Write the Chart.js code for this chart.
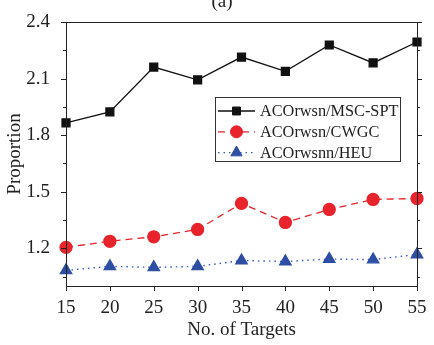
<!DOCTYPE html>
<html>
<head>
<meta charset="utf-8">
<script src="https://cdn.jsdelivr.net/npm/chart.js@4.4.0/dist/chart.umd.min.js"></script>
<style>
  html, body { margin: 0; padding: 0; background: #fff; }
  #wrap { width: 434px; height: 345px; }
</style>
</head>
<body>
<div id="wrap"><canvas id="chart" width="434" height="345"></canvas></div>
<script>
// ---- data ----
const targets = [15, 20, 25, 30, 35, 40, 45, 50, 55];
const mscSpt  = [1.865, 1.923, 2.161, 2.093, 2.214, 2.138, 2.278, 2.183, 2.294];
const cwgc    = [1.205, 1.237, 1.261, 1.300, 1.438, 1.337, 1.406, 1.459, 1.464];
const heu     = [1.083, 1.104, 1.099, 1.104, 1.135, 1.130, 1.143, 1.140, 1.167];
const seriesNames = ["ACOrwsn/MSC-SPT", "ACOrwsn/CWGC", "ACOrwsnn/HEU"];
const yMajor = [1.2, 1.5, 1.8, 2.1, 2.4];
const yMinor = [1.05, 1.35, 1.65, 1.95, 2.25];
const xTicks = [15, 20, 25, 30, 35, 40, 45, 50, 55];

const FONT = "'Liberation Serif', 'DejaVu Serif', serif";

function pts(ys){ return targets.map((x, i) => ({ x: x, y: ys[i] })); }

// frame, outward ticks, legend box and the "(a)" caption
const framePlugin = {
  id: "frame",
  afterDraw(c){
    const ctx = c.ctx, a = c.chartArea;
    const xs = c.scales.x, ys = c.scales.y;
    ctx.save();
    ctx.strokeStyle = "#222";
    ctx.lineWidth = 1;
    ctx.strokeRect(a.left + 0.5, a.top + 0.5, a.right - a.left, a.bottom - a.top);

    ctx.beginPath();
    yMajor.forEach(v => {
      const y = Math.round(ys.getPixelForValue(v)) + 0.5;
      ctx.moveTo(a.left - 5, y); ctx.lineTo(a.left, y);
      ctx.moveTo(a.right, y); ctx.lineTo(a.right + 5, y);
    });
    yMinor.forEach(v => {
      const y = Math.round(ys.getPixelForValue(v)) + 0.5;
      ctx.moveTo(a.left - 3, y); ctx.lineTo(a.left, y);
      ctx.moveTo(a.right, y); ctx.lineTo(a.right + 3, y);
    });
    xTicks.forEach(v => {
      const x = Math.round(xs.getPixelForValue(v)) + 0.5;
      ctx.moveTo(x, a.bottom); ctx.lineTo(x, a.bottom + 5);
    });
    ctx.stroke();

    // caption, cut by the top edge as in the figure
    ctx.fillStyle = "#222";
    ctx.font = "19px " + FONT;
    ctx.textAlign = "center";
    ctx.textBaseline = "alphabetic";
    ctx.fillText("(a)", 222, 7);

    // legend
    const bx = 215, by = 97, bw = 185, bh = 64;
    ctx.fillStyle = "#fff";
    ctx.fillRect(bx, by, bw, bh);
    ctx.strokeStyle = "#333";
    ctx.strokeRect(bx + 0.5, by + 0.5, bw, bh);
    c.data.datasets.forEach((ds, i) => {
      const y = 111 + i * 20.8;
      ctx.strokeStyle = ds.borderColor;
      ctx.lineWidth = ds.borderWidth;
      ctx.setLineDash(ds.borderDash || []);
      ctx.beginPath(); ctx.moveTo(218, y); ctx.lineTo(255, y); ctx.stroke();
      ctx.setLineDash([]);
      ctx.fillStyle = ds.pointBackgroundColor;
      ctx.strokeStyle = ds.pointBorderColor;
      ctx.lineWidth = 1;
      Chart.helpers.drawPoint(ctx, {
        pointStyle: ds.pointStyle, radius: ds.pointRadius, borderWidth: 1, rotation: 0
      }, 236.5, y);
      ctx.fillStyle = "#222";
      ctx.font = "16.3px " + FONT;
      ctx.textAlign = "left";
      ctx.textBaseline = "middle";
      ctx.fillText(seriesNames[i], 260, y + 1);
    });
    ctx.restore();
  }
};

new Chart(document.getElementById("chart"), {
  type: "line",
  data: {
    datasets: [
      {
        label: seriesNames[0], data: pts(mscSpt),
        borderColor: "#111", borderWidth: 1.3,
        pointStyle: "rect", pointRadius: 5.6,
        pointBackgroundColor: "#111", pointBorderColor: "#111"
      },
      {
        label: seriesNames[1], data: pts(cwgc),
        borderColor: "#e8232b", borderWidth: 1.3, borderDash: [7, 5],
        pointStyle: "circle", pointRadius: 6,
        pointBackgroundColor: "#e8232b", pointBorderColor: "#e8232b"
      },
      {
        label: seriesNames[2], data: pts(heu),
        borderColor: "#3557c4", borderWidth: 1.4, borderDash: [1.5, 4],
        pointStyle: "triangle", pointRadius: 6.5,
        pointBackgroundColor: "#2d4ea3", pointBorderColor: "#2d4ea3"
      }
    ]
  },
  options: {
    responsive: false,
    animation: false,
    clip: false,
    layout: { padding: { top: 22, right: 17, left: 0, bottom: 0 } },
    plugins: { legend: { display: false }, tooltip: { enabled: false } },
    scales: {
      x: {
        type: "linear", min: 15, max: 55,
        grid: { display: false },
        border: { display: false },
        afterBuildTicks(s){ s.ticks = xTicks.map(v => ({ value: v })); },
        afterFit(s){ s.height = 59; },
        ticks: { color: "#222", font: { family: FONT, size: 19 }, padding: 3, maxRotation: 0 },
        title: { display: true, text: "No. of Targets", color: "#222",
                 font: { family: FONT, size: 19 }, padding: { top: 6 } }
      },
      y: {
        min: 1.0, max: 2.4,
        grid: { display: false },
        border: { display: false },
        afterBuildTicks(s){ s.ticks = yMajor.map(v => ({ value: v })); },
        afterFit(s){ s.width = 66; },
        ticks: { color: "#222", font: { family: FONT, size: 19 }, padding: 8,
                 callback: v => v.toFixed(1) },
        title: { display: true, text: "Proportion", color: "#222",
                 font: { family: FONT, size: 19 }, padding: { bottom: 2 } }
      }
    }
  },
  plugins: [framePlugin]
});
</script>
</body>
</html>
